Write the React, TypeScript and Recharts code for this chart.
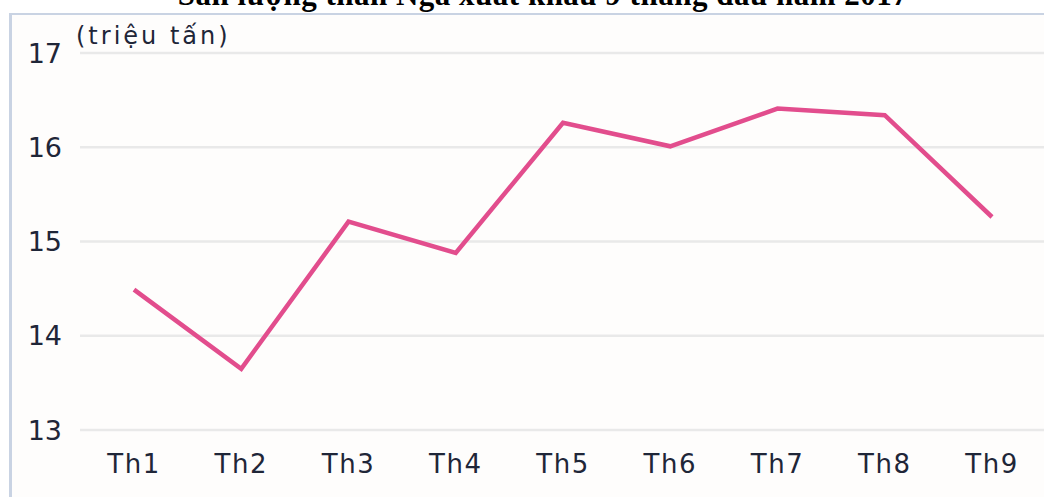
import { LineChart, Line, XAxis, YAxis, CartesianGrid } from "recharts";

const months = ["Th1", "Th2", "Th3", "Th4", "Th5", "Th6", "Th7", "Th8", "Th9"];
const exports = [14.49, 13.65, 15.21, 14.88, 16.26, 16.01, 16.41, 16.34, 15.26];
const yTicks = [13, 14, 15, 16, 17];

const data = months.map((m, i) => ({ month: m, value: exports[i] }));

const textColor = "#1f2638";
const tickFont = "'DejaVu Sans', sans-serif";

export default function App() {
  return (
    <div
      style={{
        position: "absolute",
        left: 0,
        top: 0,
        width: 1044,
        height: 497,
        overflow: "hidden",
        background: "#ffffff",
      }}
    >
      {/* title is cut off at the top in the source image */}
      <div
        style={{
          position: "absolute",
          left: 0,
          top: -21,
          width: 1086,
          lineHeight: "31px",
          textAlign: "center",
          fontFamily: "'Liberation Serif', serif",
          fontWeight: "bold",
          fontSize: 31,
          letterSpacing: 0.5,
          color: "#000",
          whiteSpace: "nowrap",
        }}
      >
        Sản lượng than Nga xuất khẩu 9 tháng đầu năm 2017
      </div>
      <div
        style={{
          position: "absolute",
          left: 9,
          top: 13,
          right: 0,
          bottom: 0,
          borderLeft: "3px solid #c9d3e3",
          borderTop: "2px solid #c9d3e3",
          background: "#fefdfc",
        }}
      />
      <div style={{ position: "absolute", left: 0, top: 0 }}>
        <LineChart
          width={1044}
          height={497}
          data={data}
          margin={{ top: 53, right: 0, bottom: 0, left: 0 }}
        >
          <CartesianGrid vertical={false} stroke="#e9e9e9" strokeWidth={2.5} />
          <XAxis
            dataKey="month"
            axisLine={false}
            tickLine={false}
            tickSize={0}
            tickMargin={25}
            height={67}
            padding={{ left: 54, right: 52 }}
            interval={0}
            tick={{ fill: textColor, fontSize: 26, fontFamily: tickFont, letterSpacing: 1.5 }}
          />
          <YAxis
            domain={[13, 17]}
            ticks={yTicks}
            axisLine={false}
            tickLine={false}
            tickSize={0}
            tickMargin={18}
            width={80}
            tick={{ fill: textColor, fontSize: 27, fontFamily: tickFont }}
          />
          <Line
            type="linear"
            dataKey="value"
            stroke="#e24d8d"
            strokeWidth={4.5}
            dot={false}
            activeDot={false}
            isAnimationActive={false}
          />
        </LineChart>
      </div>
      <div
        style={{
          position: "absolute",
          left: 76,
          top: 22,
          fontFamily: tickFont,
          fontSize: 24,
          letterSpacing: 3,
          lineHeight: "28px",
          color: textColor,
          whiteSpace: "nowrap",
        }}
      >
        (triệu tấn)
      </div>
    </div>
  );
}
